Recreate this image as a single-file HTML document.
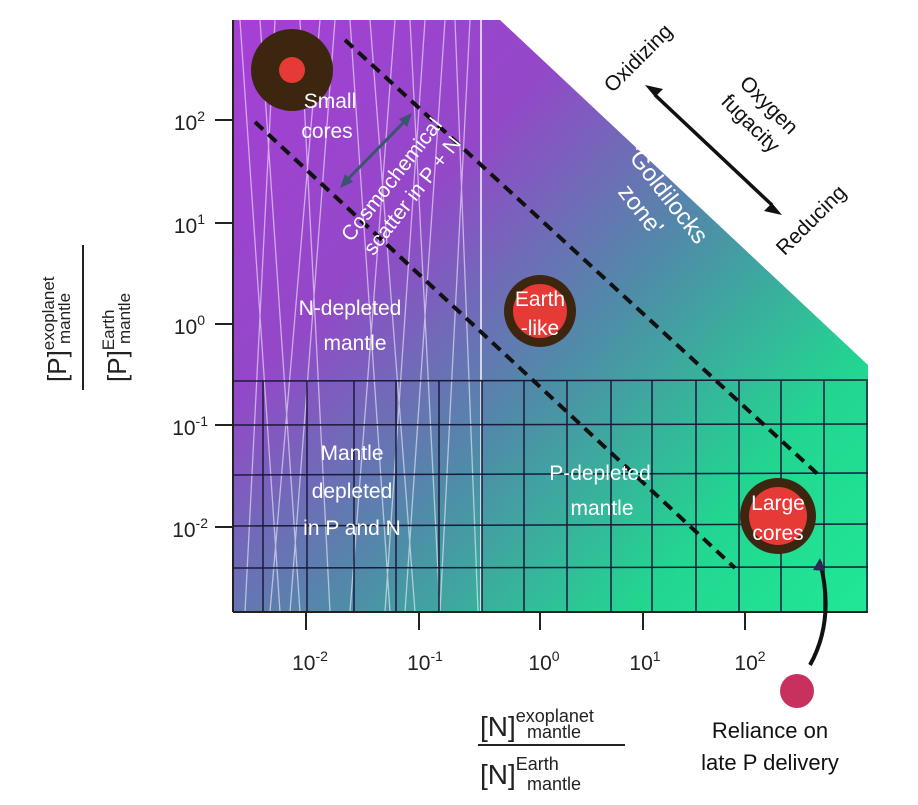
<!DOCTYPE html>
<html><head><meta charset="utf-8"><style>
body{margin:0;background:#fff;}
svg{display:block;font-family:"Liberation Sans",sans-serif;}
</style></head><body>
<svg width="918" height="805" viewBox="0 0 918 805">
<defs>
<linearGradient id="g" x1="233" y1="20" x2="868" y2="612" gradientUnits="userSpaceOnUse">
<stop offset="0" stop-color="#a63fd6"/>
<stop offset="0.3" stop-color="#9348c8"/>
<stop offset="0.55" stop-color="#4f8ca8"/>
<stop offset="0.8" stop-color="#22d690"/>
<stop offset="1" stop-color="#20e896"/>
</linearGradient>
<clipPath id="c"><polygon points="233,20 500,20 868,365 868,612 233,612"/></clipPath>
</defs>
<polygon points="233,20 500,20 868,365 868,612 233,612" fill="url(#g)"/>
<g clip-path="url(#c)" stroke="#fff" stroke-opacity="0.55" stroke-width="1.3" fill="none">
<path d="M240,20 L280,612 M275,20 L245,612 M300,20 L330,612 M335,20 L290,612 M350,20 L390,612 M395,20 L350,612 M410,20 L440,612 M445,20 L405,612 M455,20 L478,612 M470,20 L440,612 M260,20 L300,612 M320,20 L270,612 M370,20 L415,612 M425,20 L385,612"/>
<path d="M481,20 L481,612" stroke-width="2" stroke-opacity="0.7"/>
</g>
<g clip-path="url(#c)" stroke="#1a1a3a" stroke-width="1.5" fill="none">
<path d="M233,381 L868,380 M233,425 L868,424 M233,475 L868,473 M233,526 L868,524 M233,568 L868,567"/>
<path d="M263,381V612 M307,381V612 M354,381V612 M396,381V612 M439,381V612 M482,381V612 M524,381V612 M567,381V612 M611,381V612 M652,381V612 M696,381V612 M739,381V612 M781,381V612 M824,381V612 M867,381V612"/>
</g>
<g stroke="#111" stroke-width="4" stroke-dasharray="11,7" fill="none">
<line x1="345" y1="40" x2="822" y2="478"/>
<line x1="255" y1="122" x2="735" y2="568"/>
</g>
<g stroke="#222" stroke-width="2">
<line x1="233" y1="20" x2="233" y2="612"/>
<line x1="233" y1="612" x2="868" y2="612"/>
<line x1="215" y1="120" x2="233" y2="120"/><line x1="215" y1="223" x2="233" y2="223"/><line x1="215" y1="324" x2="233" y2="324"/><line x1="215" y1="425" x2="233" y2="425"/><line x1="215" y1="527" x2="233" y2="527"/>
<line x1="306" y1="612" x2="306" y2="630"/><line x1="419" y1="612" x2="419" y2="630"/><line x1="540" y1="612" x2="540" y2="630"/><line x1="643" y1="612" x2="643" y2="630"/><line x1="745" y1="612" x2="745" y2="630"/>
</g>
<g font-size="21" fill="#222" text-anchor="end">
<text x="205" y="130">10<tspan dy="-9" font-size="14">2</tspan></text>
<text x="205" y="233">10<tspan dy="-9" font-size="14">1</tspan></text>
<text x="205" y="334">10<tspan dy="-9" font-size="14">0</tspan></text>
<text x="208" y="435">10<tspan dy="-9" font-size="14">-1</tspan></text>
<text x="208" y="537">10<tspan dy="-9" font-size="14">-2</tspan></text>
</g>
<g font-size="21" fill="#222" text-anchor="middle">
<text x="310" y="670">10<tspan dy="-9" font-size="14">-2</tspan></text>
<text x="425" y="670">10<tspan dy="-9" font-size="14">-1</tspan></text>
<text x="544" y="670">10<tspan dy="-9" font-size="14">0</tspan></text>
<text x="645" y="670">10<tspan dy="-9" font-size="14">1</tspan></text>
<text x="750" y="670">10<tspan dy="-9" font-size="14">2</tspan></text>
</g>
<g transform="translate(66,310) rotate(-90)" fill="#222" text-anchor="start">
<text x="-72" y="0" font-size="26">[P]<tspan font-size="17" dy="-12">exoplanet</tspan></text>
<text x="-34" y="4" font-size="17">mantle</text>
<line x1="-80" y1="17" x2="65" y2="17" stroke="#222" stroke-width="2"/>
<text x="-72" y="60" font-size="26">[P]<tspan font-size="17" dy="-12">Earth</tspan></text>
<text x="-34" y="64" font-size="17">mantle</text>
</g>
<g fill="#222">
<text x="480" y="736" font-size="28">[N]<tspan font-size="18" dy="-14">exoplanet</tspan></text>
<text x="527" y="738" font-size="18">mantle</text>
<line x1="478" y1="745" x2="625" y2="745" stroke="#222" stroke-width="2"/>
<text x="480" y="784" font-size="28">[N]<tspan font-size="18" dy="-14">Earth</tspan></text>
<text x="527" y="790" font-size="18">mantle</text>
</g>
<circle cx="292" cy="70" r="41" fill="#3d2610"/><circle cx="292" cy="70" r="13" fill="#e53a36"/>
<circle cx="540" cy="311" r="36" fill="#3d2610"/><circle cx="540" cy="311" r="27" fill="#e53a36"/>
<circle cx="778" cy="516" r="38" fill="#3d2610"/><circle cx="778" cy="516" r="29" fill="#e53a36"/>
<circle cx="797" cy="691" r="17" fill="#c8305e"/>
<path d="M810,665 Q835,620 820,562" stroke="#111" stroke-width="4" fill="none"/>
<path d="M820,558 l-7,12 l12,1 z" fill="#2a2a55"/>
<g stroke="#111" stroke-width="3.5">
<line x1="655" y1="95" x2="772" y2="205"/>
</g>
<path d="M645,85 l18,4 l-8,8 z M782,215 l-18,-4 l8,-8 z" fill="#111"/>
<g stroke="#3a5570" stroke-width="3">
<line x1="344" y1="183" x2="408" y2="118"/>
</g>
<path d="M340,188 l5,-14 l8,8 z M412,113 l-5,14 l-8,-8 z" fill="#3a5570"/>
<g fill="#fff" font-size="21" text-anchor="middle">
<text x="330" y="108">Small</text><text x="327" y="138">cores</text>
<text x="540" y="306">Earth</text><text x="540" y="335">-like</text>
<text x="778" y="510">Large</text><text x="778" y="540">cores</text>
<text x="350" y="315">N-depleted</text><text x="355" y="350">mantle</text>
<text x="352" y="460">Mantle</text><text x="352" y="498">depleted</text><text x="352" y="535">in P and N</text>
<text x="600" y="480">P-depleted</text><text x="602" y="515">mantle</text>
<g transform="translate(405,190) rotate(-52)"><text x="0" y="-10">Cosmochemical</text><text x="0" y="16">scatter in P + N</text></g>
<g transform="translate(655,205) rotate(52)" font-size="24"><text x="0" y="-8">'Goldilocks</text><text x="-5" y="22">zone'</text></g>
</g>
<g fill="#111" font-size="21" text-anchor="middle">
<g transform="translate(643,63) rotate(-45)"><text>Oxidizing</text></g>
<g transform="translate(757,117) rotate(45)"><text x="0" y="-10">Oxygen</text><text x="0" y="16">fugacity</text></g>
<g transform="translate(816,225) rotate(-45)"><text>Reducing</text></g>
<text x="770" y="738" font-size="22">Reliance on</text>
<text x="770" y="770" font-size="22">late P delivery</text>
</g>
</svg>
</body></html>
